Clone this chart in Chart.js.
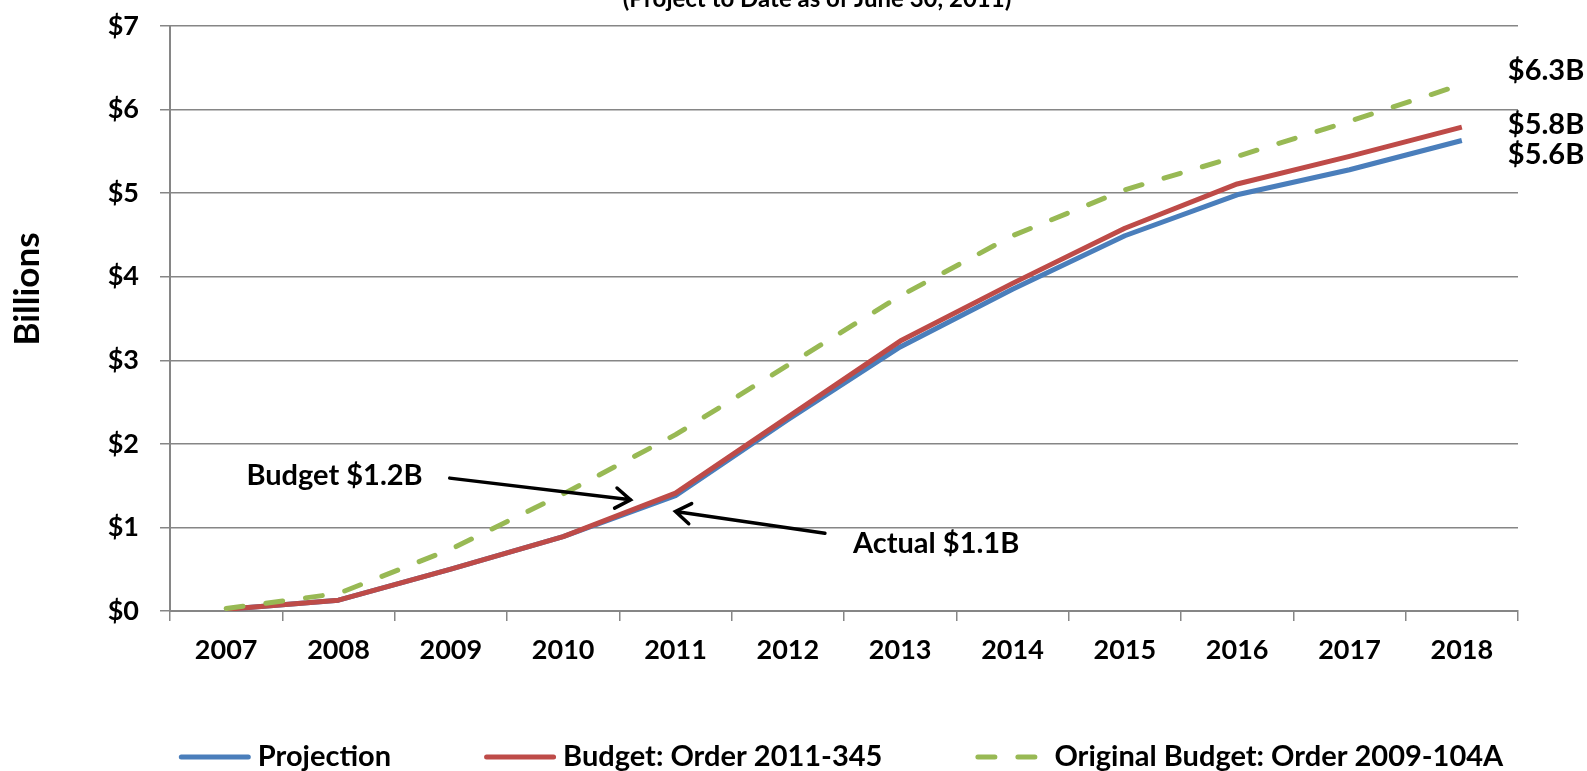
<!DOCTYPE html>
<html>
<head>
<meta charset="utf-8">
<script src="https://cdn.jsdelivr.net/npm/chart.js@4"></script>
<style>
  html, body { margin: 0; padding: 0; background: #fff; }
  #wrap { width: 1587px; height: 771px; }
</style>
</head>
<body>
<div id="wrap"><canvas id="costChart" width="1587" height="771"></canvas></div>
<script>
// Values (billions of dollars)
const years = ['2007', '2008', '2009', '2010', '2011', '2012', '2013', '2014', '2015', '2016', '2017', '2018'];
const projection = [0.02, 0.13, 0.50, 0.89, 1.38, 2.29, 3.16, 3.85, 4.49, 4.98, 5.28, 5.63];
const budget = [0.02, 0.13, 0.50, 0.89, 1.41, 2.32, 3.23, 3.92, 4.58, 5.11, 5.44, 5.79];
const originalBudget = [0.03, 0.21, 0.74, 1.40, 2.11, 2.94, 3.77, 4.49, 5.04, 5.44, 5.86, 6.30];
const seriesNames = ['Projection', 'Budget: Order 2011-345', 'Original Budget: Order 2009-104A'];
const yTicks = [0, 1, 2, 3, 4, 5, 6, 7];

// end-of-line labels and their heights (in $B)
const endLabels = ['$6.3B', '$5.8B', '$5.6B'];
const endLabelValues = [6.46, 5.82, 5.46];

// callouts: [text, textX, textY, arrowFromX, arrowFromY, arrowToX, arrowToY] in category index / $B
const callouts = [
  ['Budget $1.2B', 0.18, 1.62, 1.99, 1.59, 3.60, 1.33],
  ['Actual $1.1B', 5.58, 0.81, 5.33, 0.93, 4.00, 1.19]
];

const FONT = 'Lato, "Open Sans", sans-serif';
const gridGray = '#868686';

// extra drawing: cut-off subtitle, axis title, callouts, end labels, legend
const extras = {
  id: 'extras',
  afterDraw(chart) {
    const { ctx, scales: { x, y } } = chart;
    ctx.save();
    ctx.fillStyle = '#000';

    // subtitle, clipped at the top edge like the original
    ctx.font = 'bold 24px ' + FONT;
    ctx.textAlign = 'center';
    ctx.textBaseline = 'alphabetic';
    ctx.fillText('(Project to Date as of June 30, 2011)', 817, 7);

    // y axis title
    ctx.save();
    ctx.translate(28, 289);
    ctx.rotate(-Math.PI / 2);
    ctx.font = 'bold 35px ' + FONT;
    ctx.textBaseline = 'middle';
    ctx.fillText('Billions', 0, 0);
    ctx.restore();

    // callouts with arrows
    ctx.font = 'bold 29px ' + FONT;
    ctx.textAlign = 'left';
    ctx.textBaseline = 'middle';
    ctx.strokeStyle = '#000';
    ctx.lineWidth = 3.5;
    ctx.lineCap = 'round';
    callouts.forEach(c => {
      ctx.fillText(c[0], x.getPixelForValue(c[1]), y.getPixelForValue(c[2]));
      const x0 = x.getPixelForValue(c[3]), y0 = y.getPixelForValue(c[4]);
      const x1 = x.getPixelForValue(c[5]), y1 = y.getPixelForValue(c[6]);
      const ang = Math.atan2(y1 - y0, x1 - x0);
      ctx.beginPath();
      ctx.moveTo(x0, y0);
      ctx.lineTo(x1, y1);
      ctx.moveTo(x1 - 18 * Math.cos(ang - 0.6), y1 - 18 * Math.sin(ang - 0.6));
      ctx.lineTo(x1, y1);
      ctx.lineTo(x1 - 18 * Math.cos(ang + 0.6), y1 - 18 * Math.sin(ang + 0.6));
      ctx.stroke();
    });

    // labels at the right end of the lines
    const lx = x.getPixelForValue(years.length - 1) + 46;
    endLabels.forEach((t, i) => ctx.fillText(t, lx, y.getPixelForValue(endLabelValues[i])));

    // legend
    const ly = 757, lineLen = 72, textGap = 7, itemGap = 93;
    const widths = chart.data.datasets.map(d => lineLen + textGap + ctx.measureText(d.label).width);
    const total = widths.reduce((a, b) => a + b, 0) + itemGap * (widths.length - 1);
    let cx = 841 - total / 2;
    chart.data.datasets.forEach((d, i) => {
      ctx.beginPath();
      ctx.strokeStyle = d.borderColor;
      ctx.lineWidth = d.borderWidth;
      ctx.lineCap = 'round';
      ctx.setLineDash(d.borderDash || []);
      ctx.moveTo(cx + 2.5, ly);
      ctx.lineTo(cx + lineLen - 2.5, ly);
      ctx.stroke();
      ctx.setLineDash([]);
      ctx.fillText(d.label, cx + lineLen + textGap, ly);
      cx += widths[i] + itemGap;
    });
    ctx.restore();
  }
};

new Chart(document.getElementById('costChart'), {
  type: 'line',
  data: {
    labels: years,
    datasets: [
      { label: seriesNames[0], data: projection, borderColor: '#4A7EBB', borderWidth: 5, order: 3 },
      { label: seriesNames[1], data: budget, borderColor: '#BE4B48', borderWidth: 5, order: 2 },
      { label: seriesNames[2], data: originalBudget, borderColor: '#98B954', borderWidth: 5,
        borderDash: [17, 23], borderCapStyle: 'round', order: 1 }
    ]
  },
  options: {
    responsive: false,
    animation: false,
    devicePixelRatio: 1,
    layout: { padding: { top: 26, right: 69, bottom: 100, left: 0 } },
    elements: {
      point: { radius: 0 },
      line: { tension: 0, borderJoinStyle: 'round', fill: false }
    },
    plugins: {
      legend: { display: false },
      tooltip: { enabled: false }
    },
    scales: {
      x: {
        offset: true,
        grid: { offset: true, drawOnChartArea: false, tickLength: 10, color: gridGray, lineWidth: 1.5 },
        border: { color: gridGray, width: 2 },
        ticks: { color: '#000', font: { family: FONT, size: 27, weight: 'bold' }, padding: 13, maxRotation: 0 },
        afterFit: s => { s.height = 60; s.paddingLeft = 0; s.paddingRight = 0; }
      },
      y: {
        min: 0,
        max: 7,
        afterBuildTicks: s => { s.ticks = yTicks.map(v => ({ value: v })); },
        grid: { tickLength: 10, color: gridGray, lineWidth: 1.5 },
        border: { color: gridGray, width: 2 },
        ticks: { color: '#000', font: { family: FONT, size: 27, weight: 'bold' }, padding: 21,
                 callback: v => '$' + v },
        afterFit: s => { s.width = 170; s.paddingTop = 0; s.paddingBottom = 0; }
      }
    }
  },
  plugins: [extras]
});
</script>
</body>
</html>
